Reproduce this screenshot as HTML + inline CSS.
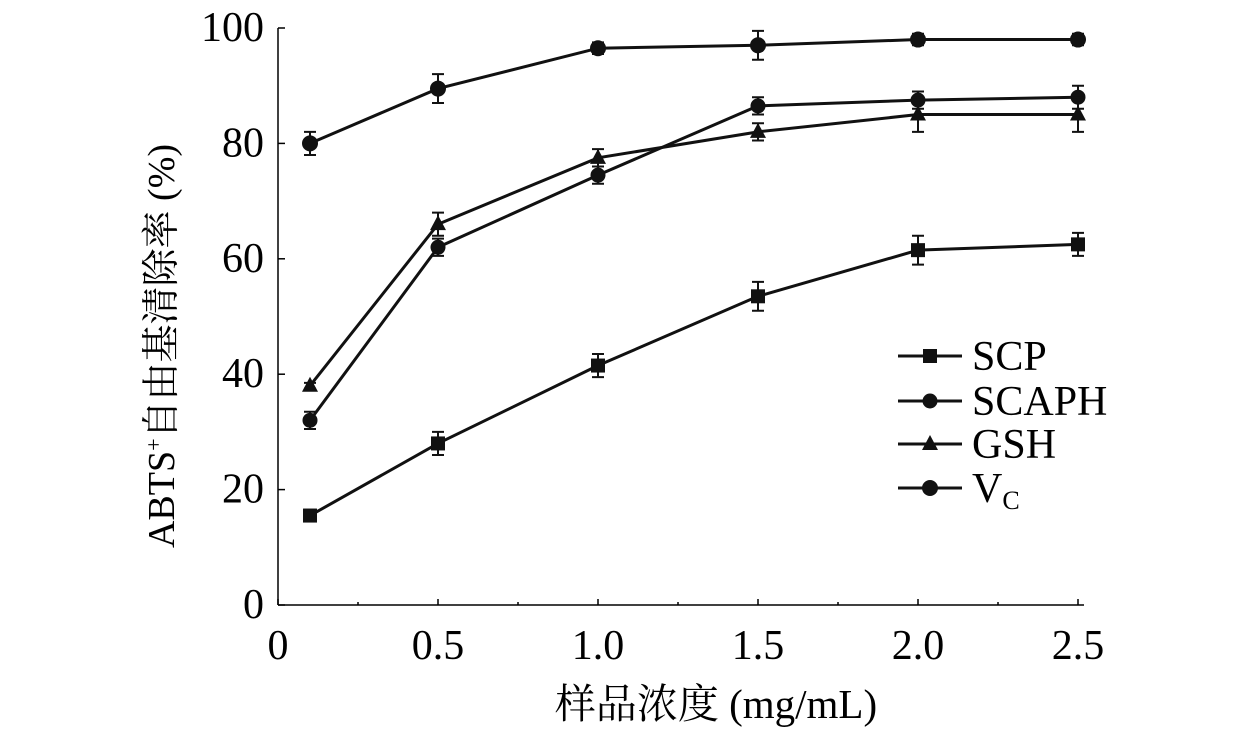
<!DOCTYPE html>
<html><head><meta charset="utf-8"><style>
html,body{margin:0;padding:0;background:#fff;}
svg{display:block;font-family:"Liberation Serif","Noto Serif CJK SC",serif;}
</style></head><body>
<svg id="chart" width="1260" height="730" viewBox="0 0 1260 730"></svg>
<script>
const xValues=[0.1,0.5,1.0,1.5,2.0,2.5];
const xTicks=[0,0.5,1.0,1.5,2.0,2.5];
const xTickLabels=["0","0.5","1.0","1.5","2.0","2.5"];
const yTicks=[0,20,40,60,80,100];
const seriesNames=["SCP","SCAPH","GSH","VC"];
const scpValues=[15.5,28,41.5,53.5,61.5,62.5];
const scapValues=[32,62,74.5,86.5,87.5,88];
const gshValues=[38,66,77.5,82,85,85];
const vcValues=[80,89.5,96.5,97,98,98];
const scpErr=[1,2,2,2.5,2.5,2];
const scapErr=[1.5,1.5,1.5,1.5,1.5,2];
const gshErr=[0.5,2,1.5,1.5,3,3];
const vcErr=[2,2.5,1,2.5,1,1];
const svg=document.getElementById('chart');
const NS='http://www.w3.org/2000/svg';
const X0=278,X1=1078,Y0=605,Y1=28;
const xs=v=>X0+(v/2.5)*(X1-X0);
const ys=v=>Y0-(v/100)*(Y0-Y1);
function mk(t,a){const e=document.createElementNS(NS,t);for(const k in a)e.setAttribute(k,a[k]);svg.appendChild(e);return e;}
let e;
e=mk('line',{x1:X0,y1:Y0,x2:X1+6,y2:Y0,stroke:'#000','stroke-width':1.5});


e=mk('line',{x1:X0,y1:Y0,x2:X0,y2:Y1,stroke:'#000','stroke-width':1.5});


xTicks.forEach((t,i)=>{
  e=mk('line',{x1:xs(t),y1:Y0,x2:xs(t),y2:Y0-6,stroke:'#000','stroke-width':1.5});
  
  
  if(i<xTicks.length-1){
    e=mk('line',{x1:xs(t+0.25),y1:Y0,x2:xs(t+0.25),y2:Y0-3,stroke:'#000','stroke-width':1.5});
    
    
  }
  e=mk('text',{x:xs(t),y:Y0+54,'font-size':42,'text-anchor':'middle'});
  e.textContent=xTickLabels[i];
  
  
});
yTicks.forEach(t=>{
  e=mk('line',{x1:X0,y1:ys(t),x2:X0+7,y2:ys(t),stroke:'#000','stroke-width':1.5});
  
  
  e=mk('text',{x:X0-14,y:ys(t)+13,'font-size':42,'text-anchor':'end'});
  e.textContent=String(t);
  
  
});
e=mk('text',{x:716,y:718,'font-size':41,'text-anchor':'middle'});
e.textContent='样品浓度 (mg/mL)';


e=mk('text',{x:0,y:0,'font-size':38,'text-anchor':'middle',transform:'translate(174,346) rotate(-90)'});
e.innerHTML='ABTS<tspan font-size="22" dy="-13">+</tspan><tspan dy="13">自由基清除率 (%)</tspan>';


function marker(type,x,y){
  let m;
  if(type==='square')m=mk('rect',{x:x-7,y:y-7,width:14,height:14,fill:'#111'});
  else if(type==='circle')m=mk('circle',{cx:x,cy:y,r:7.5,fill:'#111'});
  else if(type==='triangle')m=mk('polygon',{points:`${x},${y-9} ${x+8},${y+6} ${x-8},${y+6}`,fill:'#111'});
  else m=mk('circle',{cx:x,cy:y,r:8,fill:'#111'});
  return m;
}
const series=[[scpValues,scpErr,'square','scp'],[scapValues,scapErr,'circle','scaph'],[gshValues,gshErr,'triangle','gsh'],[vcValues,vcErr,'diamond','vc']];
series.forEach(([vals,errs,type,nm])=>{
  const pts=vals.map((v,i)=>xs(xValues[i])+','+ys(v)).join(' ');
  e=mk('polyline',{points:pts,fill:'none',stroke:'#111','stroke-width':3});
  
  
  vals.forEach((v,i)=>{
    const x=xs(xValues[i]);
    e=mk('path',{d:`M${x},${ys(v+errs[i])}V${ys(v-errs[i])}M${x-6},${ys(v+errs[i])}H${x+6}M${x-6},${ys(v-errs[i])}H${x+6}`,stroke:'#111','stroke-width':2,fill:'none'});
    
    
    e=marker(type,x,ys(v));
    
    
  });
});
const legY=[356,401,444,488];
series.forEach(([v,er,type,nm],i)=>{
  e=mk('line',{x1:898,y1:legY[i],x2:962,y2:legY[i],stroke:'#111','stroke-width':3});
  
  
  e=marker(type,930,legY[i]);
  
  
  e=mk('text',{x:972,y:legY[i]+14,'font-size':42});
  if(nm==='vc')e.innerHTML='V<tspan font-size="26" dy="7">C</tspan>';
  else e.textContent=seriesNames[i];
  
  
});
</script>
</body></html>
